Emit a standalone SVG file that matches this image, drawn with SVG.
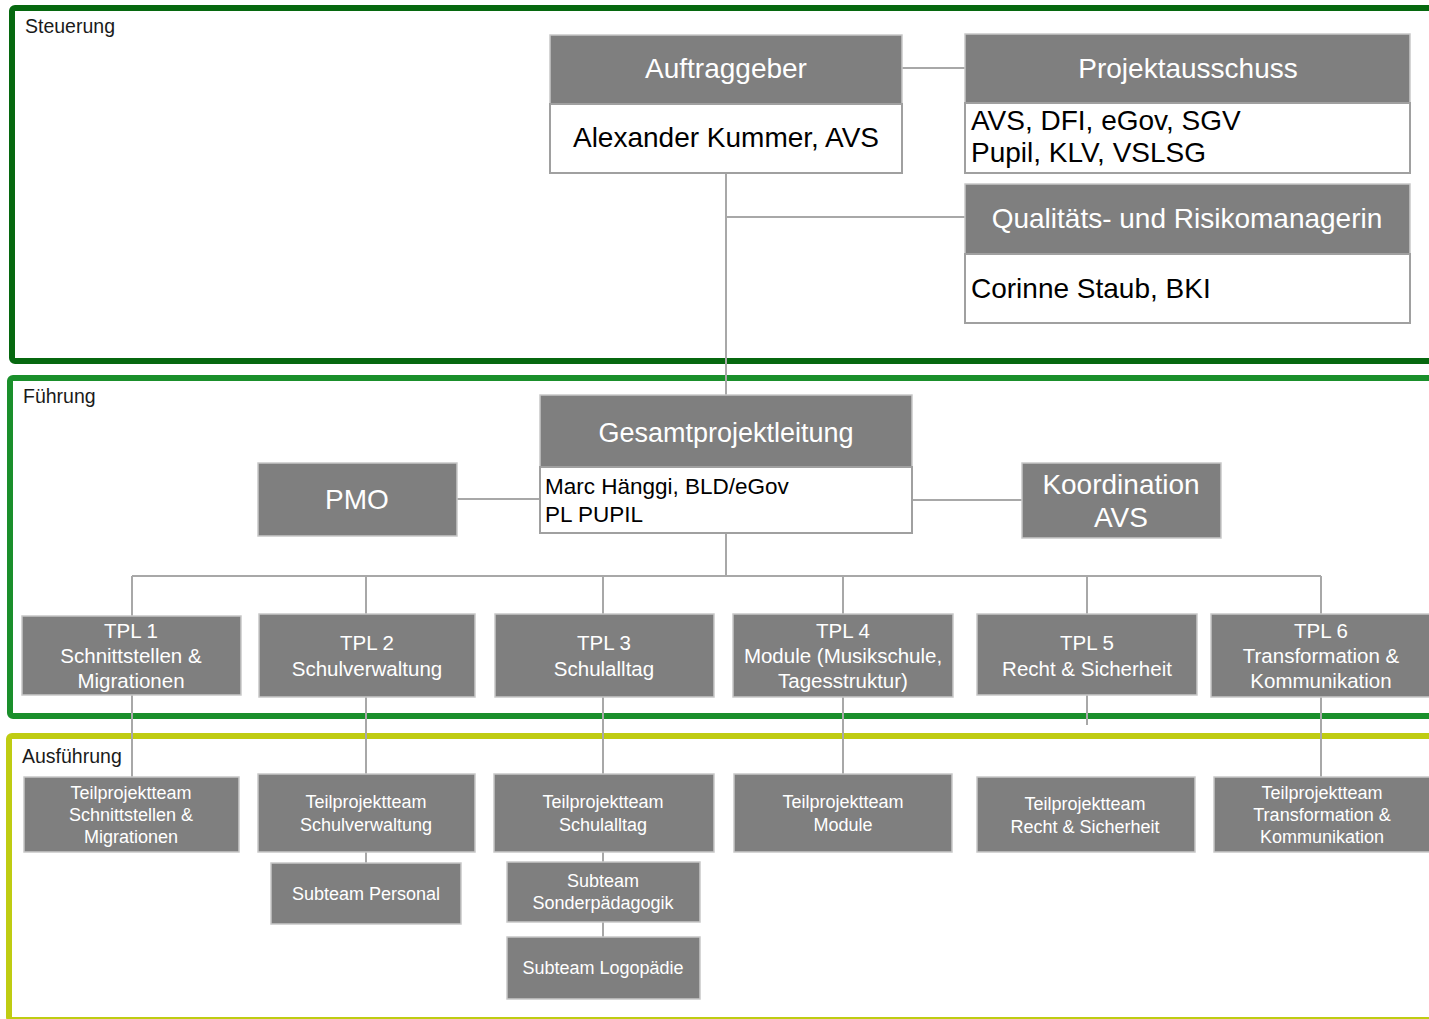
<svg xmlns="http://www.w3.org/2000/svg" width="1429" height="1019" viewBox="0 0 1429 1019">
<style>
text{font-family:"Liberation Sans",Arial,sans-serif}
.frame{fill:none;stroke-width:6}
.hd{fill:#7f7f7f;stroke:#c8c8c8;stroke-width:1.5}
.bd{fill:#fff;stroke:#a0a0a0;stroke-width:2}
.conn path{fill:none;stroke:#a8a8a8;stroke-width:2}
.h{fill:#fff;font-size:28px;text-anchor:middle}
.b{fill:#000;font-size:28px}
.g{fill:#000;font-size:22.5px}
.t{fill:#fff;font-size:20.5px;text-anchor:middle}
.s{fill:#fff;font-size:18px;text-anchor:middle}
.lbl{fill:#1a1a1a;font-size:19.5px}
</style>
<rect width="1429" height="1019" fill="#fff"/>
<g id="frames">
<rect class="frame" x="12" y="8" width="1440" height="353" rx="3" stroke="#06680f"/>
<rect class="frame" x="10" y="378" width="1440" height="338" rx="3" stroke="#1a8f2b"/>
<rect class="frame" x="9" y="736" width="1440" height="284" rx="3" stroke="#bfcc12"/>
<text class="lbl" x="25" y="33">Steuerung</text>
<text class="lbl" x="23" y="403">Führung</text>
<text class="lbl" x="22" y="763">Ausführung</text>
</g>
<g id="connectors" class="conn">
<path d="M902,68 H965"/>
<path d="M726,173 V395"/>
<path d="M726,217 H965"/>
<path d="M457,499 H540"/>
<path d="M912,500 H1022"/>
<path d="M726,533 V576"/>
<path d="M132,576 H1321"/>
<path d="M132,576 V616 M366,576 V614 M603,576 V614 M843,576 V614 M1087,576 V614 M1321,576 V614"/>
<path d="M132,695 V777 M366,697 V774 M603,697 V774 M843,697 V774 M1087,695 V725 M1321,697 V777"/>
<path d="M366,852 V863 M603,852 V862 M603,922 V937"/>
</g>
<g id="auftraggeber">
<rect class="hd" x="550" y="35" width="352" height="69"/>
<rect class="bd" x="550" y="104" width="352" height="69"/>
<text class="h" x="726" y="78">Auftraggeber</text>
<text class="b" x="726" y="147" text-anchor="middle">Alexander Kummer, AVS</text>
</g>
<g id="projektausschuss">
<rect class="hd" x="965" y="34" width="445" height="69"/>
<rect class="bd" x="965" y="103" width="445" height="70"/>
<text class="h" x="1188" y="78">Projektausschuss</text>
<text class="b" x="971" y="130">AVS, DFI, eGov, SGV</text>
<text class="b" x="971" y="162">Pupil, KLV, VSLSG</text>
</g>
<g id="qrm">
<rect class="hd" x="965" y="184" width="445" height="70"/>
<rect class="bd" x="965" y="254" width="445" height="69"/>
<text class="h" x="1187" y="228">Qualitäts- und Risikomanagerin</text>
<text class="b" x="971" y="298">Corinne Staub, BKI</text>
</g>
<g id="gpl">
<rect class="hd" x="540" y="395" width="372" height="72"/>
<rect class="bd" x="540" y="467" width="372" height="66"/>
<text class="h" x="726" y="442" style="font-size:27px">Gesamtprojektleitung</text>
<text class="g" x="545" y="494">Marc Hänggi, BLD/eGov</text>
<text class="g" x="545" y="522">PL PUPIL</text>
</g>
<g id="pmo">
<rect class="hd" x="258" y="463" width="199" height="73"/>
<text class="h" x="357" y="509">PMO</text>
</g>
<g id="koordination">
<rect class="hd" x="1022" y="463" width="199" height="75"/>
<text class="h" x="1121" y="494">Koordination</text>
<text class="h" x="1121" y="527">AVS</text>
</g>
<g id="tpl1">
<rect class="hd" x="22" y="616" width="219" height="79"/>
<text class="t" x="131" y="638">TPL 1</text>
<text class="t" x="131" y="663">Schnittstellen &amp;</text>
<text class="t" x="131" y="688">Migrationen</text>
</g>
<g id="tpl2">
<rect class="hd" x="259" y="614" width="216" height="83"/>
<text class="t" x="367" y="650">TPL 2</text>
<text class="t" x="367" y="676">Schulverwaltung</text>
</g>
<g id="tpl3">
<rect class="hd" x="495" y="614" width="219" height="83"/>
<text class="t" x="604" y="650">TPL 3</text>
<text class="t" x="604" y="676">Schulalltag</text>
</g>
<g id="tpl4">
<rect class="hd" x="733" y="614" width="220" height="83"/>
<text class="t" x="843" y="638">TPL 4</text>
<text class="t" x="843" y="663">Module (Musikschule,</text>
<text class="t" x="843" y="688">Tagesstruktur)</text>
</g>
<g id="tpl5">
<rect class="hd" x="977" y="614" width="220" height="81"/>
<text class="t" x="1087" y="650">TPL 5</text>
<text class="t" x="1087" y="676">Recht &amp; Sicherheit</text>
</g>
<g id="tpl6">
<rect class="hd" x="1211" y="614" width="222" height="83"/>
<text class="t" x="1321" y="638">TPL 6</text>
<text class="t" x="1321" y="663">Transformation &amp;</text>
<text class="t" x="1321" y="688">Kommunikation</text>
</g>
<g id="team1">
<rect class="hd" x="24" y="777" width="215" height="75"/>
<text class="s" x="131" y="799">Teilprojektteam</text>
<text class="s" x="131" y="821">Schnittstellen &amp;</text>
<text class="s" x="131" y="843">Migrationen</text>
</g>
<g id="team2">
<rect class="hd" x="258" y="774" width="217" height="78"/>
<text class="s" x="366" y="808">Teilprojektteam</text>
<text class="s" x="366" y="831">Schulverwaltung</text>
</g>
<g id="team3">
<rect class="hd" x="494" y="774" width="220" height="78"/>
<text class="s" x="603" y="808">Teilprojektteam</text>
<text class="s" x="603" y="831">Schulalltag</text>
</g>
<g id="team4">
<rect class="hd" x="734" y="774" width="218" height="78"/>
<text class="s" x="843" y="808">Teilprojektteam</text>
<text class="s" x="843" y="831">Module</text>
</g>
<g id="team5">
<rect class="hd" x="977" y="777" width="218" height="75"/>
<text class="s" x="1085" y="810">Teilprojektteam</text>
<text class="s" x="1085" y="833">Recht &amp; Sicherheit</text>
</g>
<g id="team6">
<rect class="hd" x="1214" y="777" width="218" height="75"/>
<text class="s" x="1322" y="799">Teilprojektteam</text>
<text class="s" x="1322" y="821">Transformation &amp;</text>
<text class="s" x="1322" y="843">Kommunikation</text>
</g>
<g id="subteam-personal">
<rect class="hd" x="271" y="863" width="190" height="61"/>
<text class="s" x="366" y="900">Subteam Personal</text>
</g>
<g id="subteam-sonderpaedagogik">
<rect class="hd" x="507" y="862" width="193" height="60"/>
<text class="s" x="603" y="887">Subteam</text>
<text class="s" x="603" y="909">Sonderpädagogik</text>
</g>
<g id="subteam-logopaedie">
<rect class="hd" x="507" y="937" width="193" height="62"/>
<text class="s" x="603" y="974">Subteam Logopädie</text>
</g>
</svg>
